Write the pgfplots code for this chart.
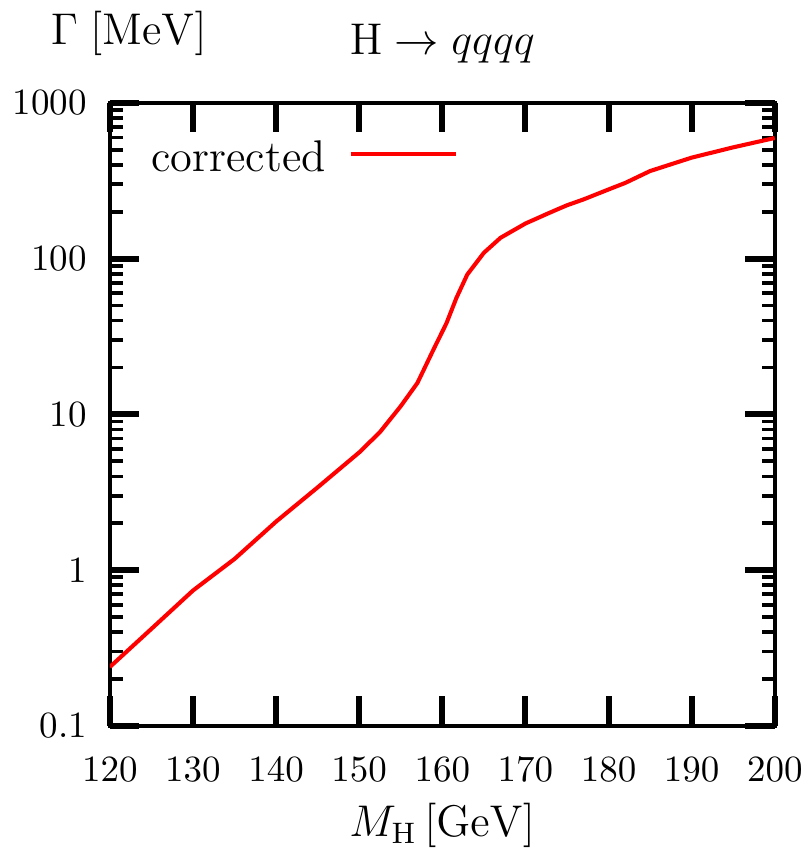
\documentclass[border=0pt]{standalone}
\usepackage{pgfplots}
\pgfplotsset{compat=1.18}
\begin{document}
\begin{tikzpicture}
\begin{axis}[
  scale only axis,
  width=179.7pt, height=168.4pt,
  xmin=120, xmax=200, ymin=0.1, ymax=1000,
  ymode=log, log basis y=10,
  axis line style={line width=1.1pt},
  xtick={120,130,...,200},
  ytick={0.1,1,10,100,1000},
  yticklabels={0.1,1,10,100,1000},
  minor ytick={0.2,0.3,0.4,0.5,0.6,0.7,0.8,0.9,2,3,4,5,6,7,8,9,20,30,40,50,60,70,80,90,200,300,400,500,600,700,800,900},
  tickwidth=8pt, subtickwidth=3.5pt,
  major tick style={black, line width=1.6pt},
  minor tick style={black, line width=1pt},
  xticklabel style={inner sep=1pt, yshift=-7.3pt},
  yticklabel style={inner sep=1pt, xshift=-5pt},
  every axis x label/.style={at={(axis description cs:0.5,0)}, anchor=base, yshift=-30pt, font=\large, inner sep=0pt},
  every axis y label/.style={at={(axis description cs:0,1)}, anchor=base, xshift=5.1pt, yshift=15.7pt, font=\large, inner sep=0pt},
  every axis title/.style={at={(axis description cs:0.5,1)}, anchor=base, yshift=13.2pt, font=\large, inner sep=0pt},
  xlabel={$M_{\mathrm{H}}\,[\mathrm{GeV}]$},
  ylabel={$\Gamma\;[\mathrm{MeV}]$},
  title={$\mathrm{H}\rightarrow qqqq$},
  legend plot pos=right,
  legend image code/.code={\draw[#1] (0pt,1.3pt) -- (28.4pt,1.3pt);},
  legend style={at={(rel axis cs:0.045,0.91)}, anchor=west, draw=none, fill=none, font=\large, nodes={inner sep=0pt}, column sep=6.2pt},
]
\addplot[red, line width=1.1pt] coordinates {
(120,0.239) (125,0.42) (130,0.74) (135,1.18) (140,2.05) (145,3.4) (150,5.7)
(152.5,7.7) (155,11.3) (157,15.9) (159,26.5) (160.5,38.5) (161.7,56) (163,79)
(165,109) (167,136) (170,168) (173,198) (175,220) (177,240) (180,278) (182,306)
(185,365) (190,445) (195,518) (200,595)
};
\addlegendentry{corrected}
\end{axis}
\path ([shift={(-29.7pt,-33pt)}]current axis.south west) rectangle ([shift={(9.2pt,27.8pt)}]current axis.north east);
\end{tikzpicture}
\end{document}
